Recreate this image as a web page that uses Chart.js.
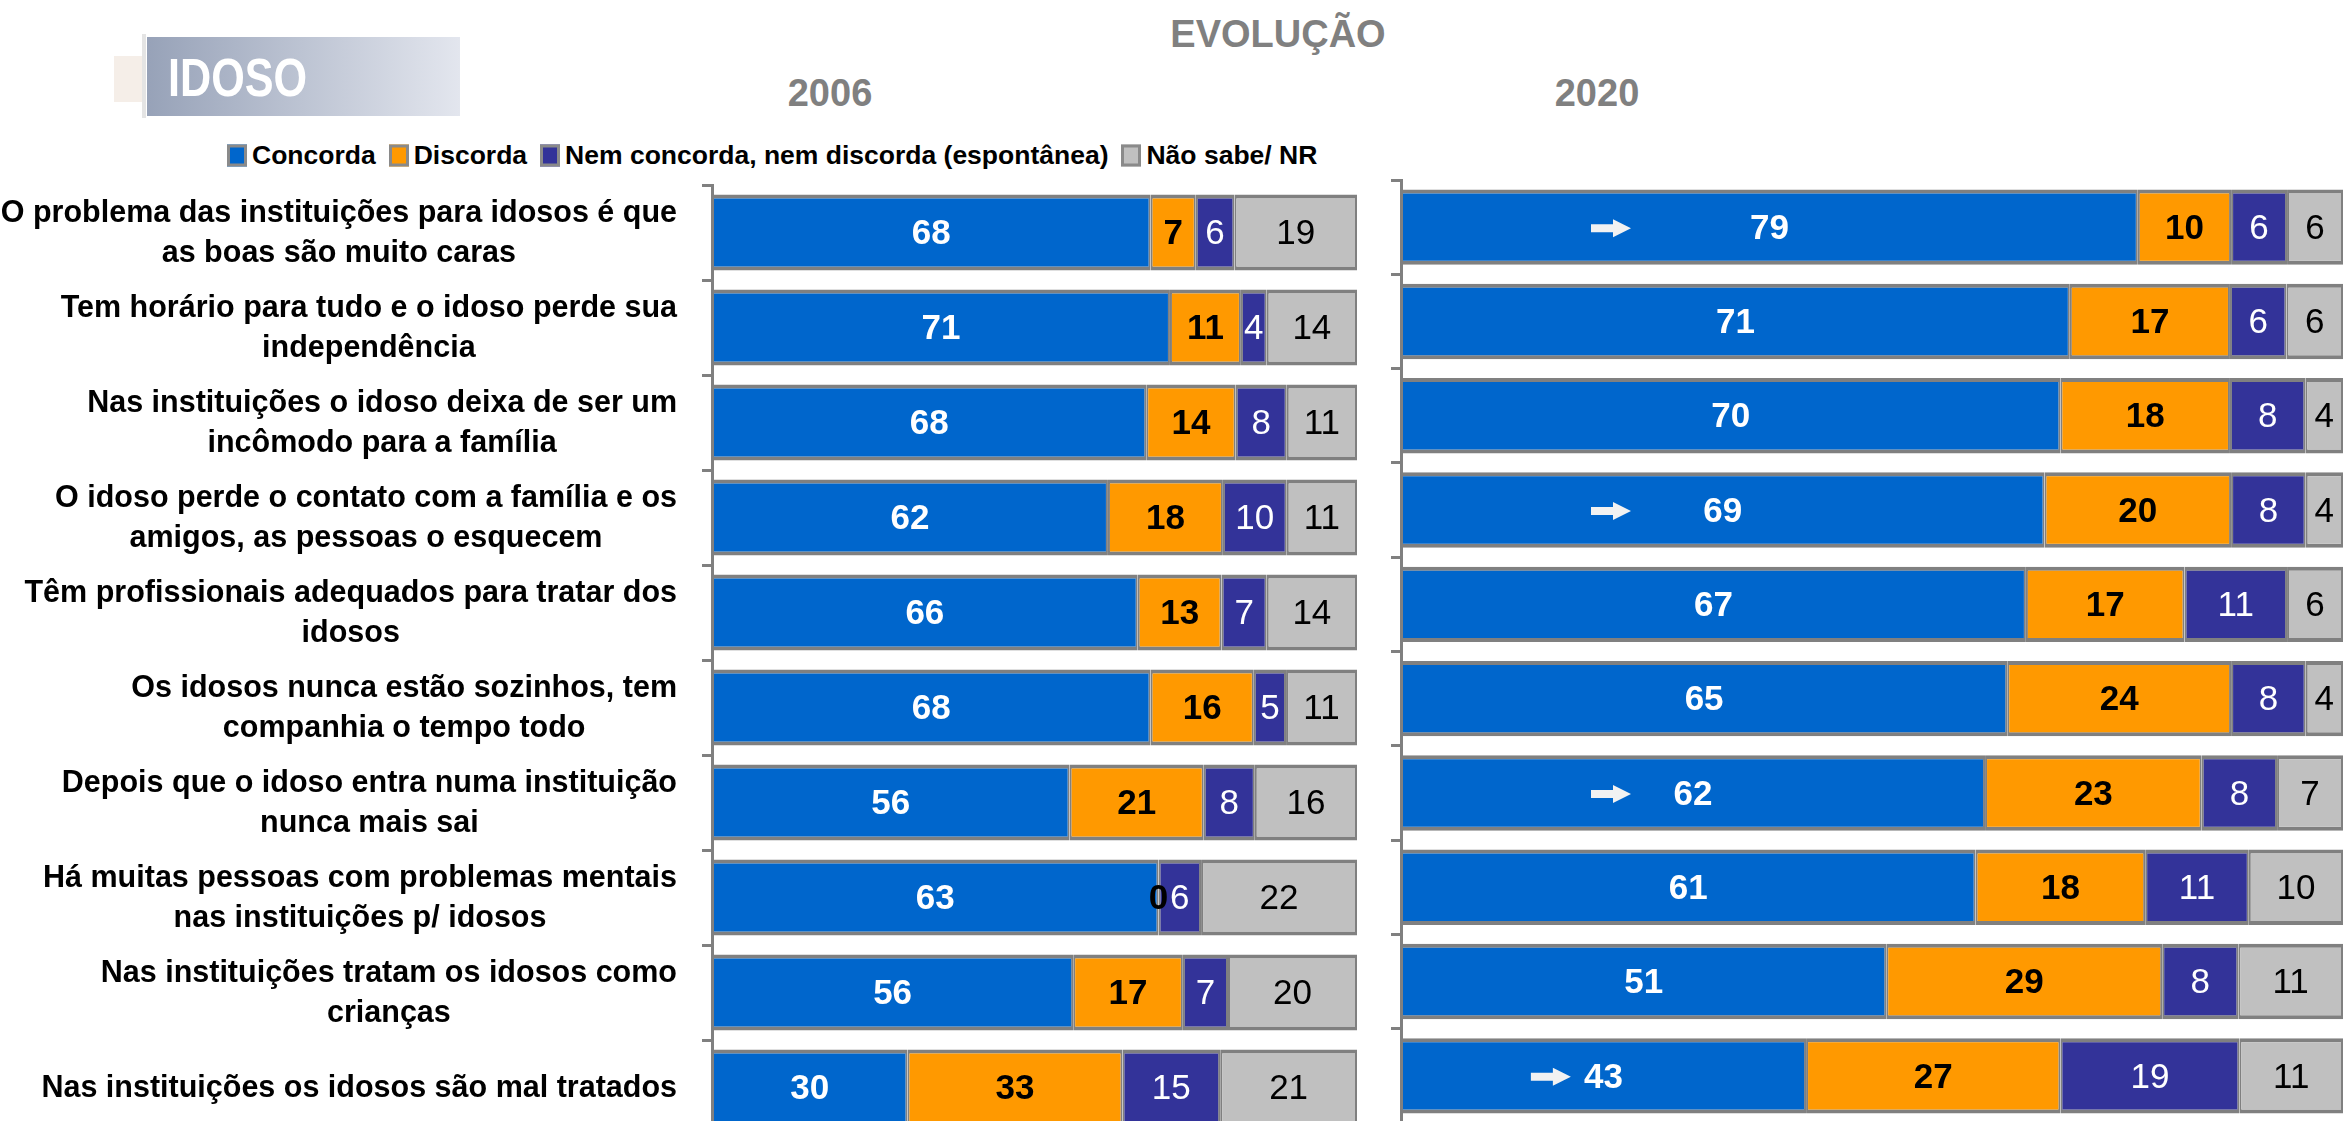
<!DOCTYPE html>
<html>
<head>
<meta charset="utf-8">
<script src="https://cdn.jsdelivr.net/npm/chart.js@4.4.1/dist/chart.umd.min.js"></script>
<style>
html,body{margin:0;padding:0;width:2344px;height:1121px;overflow:hidden;background:#fff;font-family:'Liberation Sans',Arial,sans-serif;}
#stage{position:relative;width:2344px;height:1121px;overflow:hidden;}
.ttl{position:absolute;color:#808080;font-weight:bold;white-space:nowrap;transform:translate(-50%,-50%);font-size:38px;line-height:1;}
#idoso{position:absolute;left:147px;top:37px;width:313px;height:79px;background:linear-gradient(to right,#97a2b8,#e3e6ee);}
#idosoTxt{position:absolute;left:168px;top:77px;color:#fff;font-weight:bold;font-size:54px;line-height:1;transform-origin:0 50%;transform:translateY(-50%) scaleX(0.8);}
#ghost{position:absolute;left:114px;top:56px;width:30px;height:46px;background:#f5eee8;}
#ghost2{position:absolute;left:142px;top:34px;width:4px;height:84px;background:#e4e4e4;}
#legend{position:absolute;left:227px;top:155px;transform:translateY(-50%);display:flex;align-items:center;font-weight:bold;font-size:26.5px;color:#000;white-space:nowrap;}
.li{display:flex;align-items:center;margin-right:13px;}
.lb{width:14px;height:16px;border:3px solid #8a8a8a;margin-right:5px;}
#w1{position:absolute;left:0;top:0;}
#w2{position:absolute;left:1380px;top:0;}
</style>
</head>
<body>
<div id="stage">
  <div id="ghost"></div><div id="ghost2"></div>
  <div id="idoso"></div>
  <div id="idosoTxt">IDOSO</div>
  <div class="ttl" style="left:1278px;top:34px;">EVOLUÇÃO</div>
  <div class="ttl" style="left:830px;top:93px;">2006</div>
  <div class="ttl" style="left:1597px;top:93px;">2020</div>
  <div id="legend"></div>
  <div id="w1"><canvas id="c1" width="1360" height="1140"></canvas></div>
  <div id="w2"><canvas id="c2" width="964" height="1126"></canvas></div>
</div>
<script>
// ---- DATA ----
const categories = [
  ["O problema das instituições para idosos é que", "as boas são muito caras"],
  ["Tem horário para tudo e o idoso perde sua", "independência"],
  ["Nas instituições o idoso deixa de ser um", "incômodo para a família"],
  ["O idoso perde o contato com a família e os", "amigos, as pessoas o esquecem"],
  ["Têm profissionais adequados para tratar dos", "idosos"],
  ["Os idosos nunca estão sozinhos, tem", "companhia o tempo todo"],
  ["Depois que o idoso entra numa instituição", "nunca mais sai"],
  ["Há muitas pessoas com problemas mentais", "nas instituições p/ idosos"],
  ["Nas instituições tratam os idosos como", "crianças"],
  ["Nas instituições os idosos são mal tratados"]
];
const seriesNames = ["Concorda", "Discorda", "Nem concorda, nem discorda (espontânea)", "Não sabe/ NR"];
const seriesColors = ["#0066CC", "#FF9900", "#333399", "#C0C0C0"];

const concorda2006 = [68, 71, 68, 62, 66, 68, 56, 63, 56, 30];
const discorda2006 = [7, 11, 14, 18, 13, 16, 21, 0, 17, 33];
const nem2006      = [6, 4, 8, 10, 7, 5, 8, 6, 7, 15];
const naoSabe2006  = [19, 14, 11, 11, 14, 11, 16, 22, 20, 21];

const concorda2020 = [79, 71, 70, 69, 67, 65, 62, 61, 51, 43];
const discorda2020 = [10, 17, 18, 20, 17, 24, 23, 18, 29, 27];
const nem2020      = [6, 6, 8, 8, 11, 8, 8, 11, 8, 19];
const naoSabe2020  = [6, 6, 4, 4, 6, 4, 7, 10, 11, 11];

const arrows2020 = [true, false, false, true, false, false, true, false, false, true];

// ---- legend ----
const lg = document.getElementById('legend');
seriesNames.forEach((n, k) => {
  const it = document.createElement('div'); it.className = 'li';
  const b = document.createElement('div'); b.className = 'lb'; b.style.background = seriesColors[k];
  const t = document.createElement('span'); t.textContent = n;
  it.appendChild(b); it.appendChild(t); lg.appendChild(it);
});

// ---- helpers ----
const FONT = "'Liberation Sans', Arial, sans-serif";
const labelStyles = [
  {color: '#FFFFFF', weight: 'bold'},
  {color: '#000000', weight: 'bold'},
  {color: '#FFFFFF', weight: 'normal'},
  {color: '#000000', weight: 'normal'}
];

function normalize(series) {
  const n = series[0].length;
  const sums = [];
  for (let i = 0; i < n; i++) sums.push(series.reduce((a, s) => a + s[i], 0));
  return series.map(s => s.map((v, i) => v / sums[i] * 100));
}

function valueLabels(raw, arrows) {
  return {
    id: 'valueLabels',
    afterDatasetsDraw(chart) {
      const ctx = chart.ctx;
      ctx.save();
      ctx.textAlign = 'center';
      ctx.textBaseline = 'middle';
      chart.data.datasets.forEach((ds, di) => {
        const meta = chart.getDatasetMeta(di);
        const st = labelStyles[di];
        ctx.font = st.weight + ' 35px ' + FONT;
        ctx.fillStyle = st.color;
        meta.data.forEach((bar, i) => {
          const cx = (bar.x + bar.base) / 2;
          ctx.fillText(String(raw[di][i]), cx, bar.y + 2);
        });
      });
      if (arrows) {
        const meta = chart.getDatasetMeta(0);
        ctx.fillStyle = '#F2F2F2';
        meta.data.forEach((bar, i) => {
          if (!arrows[i]) return;
          const w = bar.x - bar.base;
          const xc = bar.base + Math.min(210, 0.37 * w);
          const x0 = xc - 20;
          const y = bar.y + 1;
          ctx.beginPath();
          ctx.moveTo(x0, y - 4);
          ctx.lineTo(x0 + 22, y - 4);
          ctx.lineTo(x0 + 22, y - 9);
          ctx.lineTo(x0 + 40, y);
          ctx.lineTo(x0 + 22, y + 9);
          ctx.lineTo(x0 + 22, y + 4);
          ctx.lineTo(x0, y + 4);
          ctx.closePath();
          ctx.fill();
        });
      }
      ctx.restore();
    }
  };
}

const yLabels = {
  id: 'yLabels',
  afterDraw(chart) {
    const ctx = chart.ctx, ys = chart.scales.y;
    ctx.save();
    ctx.font = 'bold 30.5px ' + FONT;
    ctx.fillStyle = '#000';
    ctx.textAlign = 'center';
    ctx.textBaseline = 'middle';
    const right = 677, lh = 40;
    categories.forEach((lines, i) => {
      const yc = ys.getPixelForValue(i);
      const w = Math.max(...lines.map(l => ctx.measureText(l).width));
      const cx = right - w / 2;
      lines.forEach((l, j) => ctx.fillText(l, cx, yc + (j - (lines.length - 1) / 2) * lh + 1));
    });
    ctx.restore();
  }
};

function makeChart(id, raw, padding, arrows, extraPlugins) {
  const pct = normalize(raw);
  return new Chart(document.getElementById(id), {
    type: 'bar',
    data: {
      labels: categories,
      datasets: seriesNames.map((n, k) => ({
        label: n,
        data: pct[k],
        backgroundColor: seriesColors[k],
        borderColor: '#808080',
        borderWidth: {top: 4, bottom: 4, left: 2, right: 2},
        borderSkipped: false,
        barPercentage: 0.8,
        categoryPercentage: 1
      }))
    },
    options: {
      indexAxis: 'y',
      responsive: false,
      animation: false,
      devicePixelRatio: 1,
      layout: {padding: padding},
      plugins: {legend: {display: false}, tooltip: {enabled: false}},
      scales: {
        x: {stacked: true, min: 0, max: 100, display: false},
        y: {
          stacked: true,
          offset: true,
          ticks: {display: false},
          grid: {display: true, drawOnChartArea: false, drawTicks: true, tickLength: 10, color: '#808080', lineWidth: 3, offset: true},
          border: {display: true, color: '#808080', width: 3}
        }
      }
    },
    plugins: [valueLabels(raw, arrows)].concat(extraPlugins)
  });
}

makeChart('c1', [concorda2006, discorda2006, nem2006, naoSabe2006],
  {left: 702, right: 3, top: 185, bottom: 5}, null, [yLabels]);
makeChart('c2', [concorda2020, discorda2020, nem2020, naoSabe2020],
  {left: 11, right: 1, top: 180, bottom: 3}, arrows2020, []);
</script>
</body>
</html>
